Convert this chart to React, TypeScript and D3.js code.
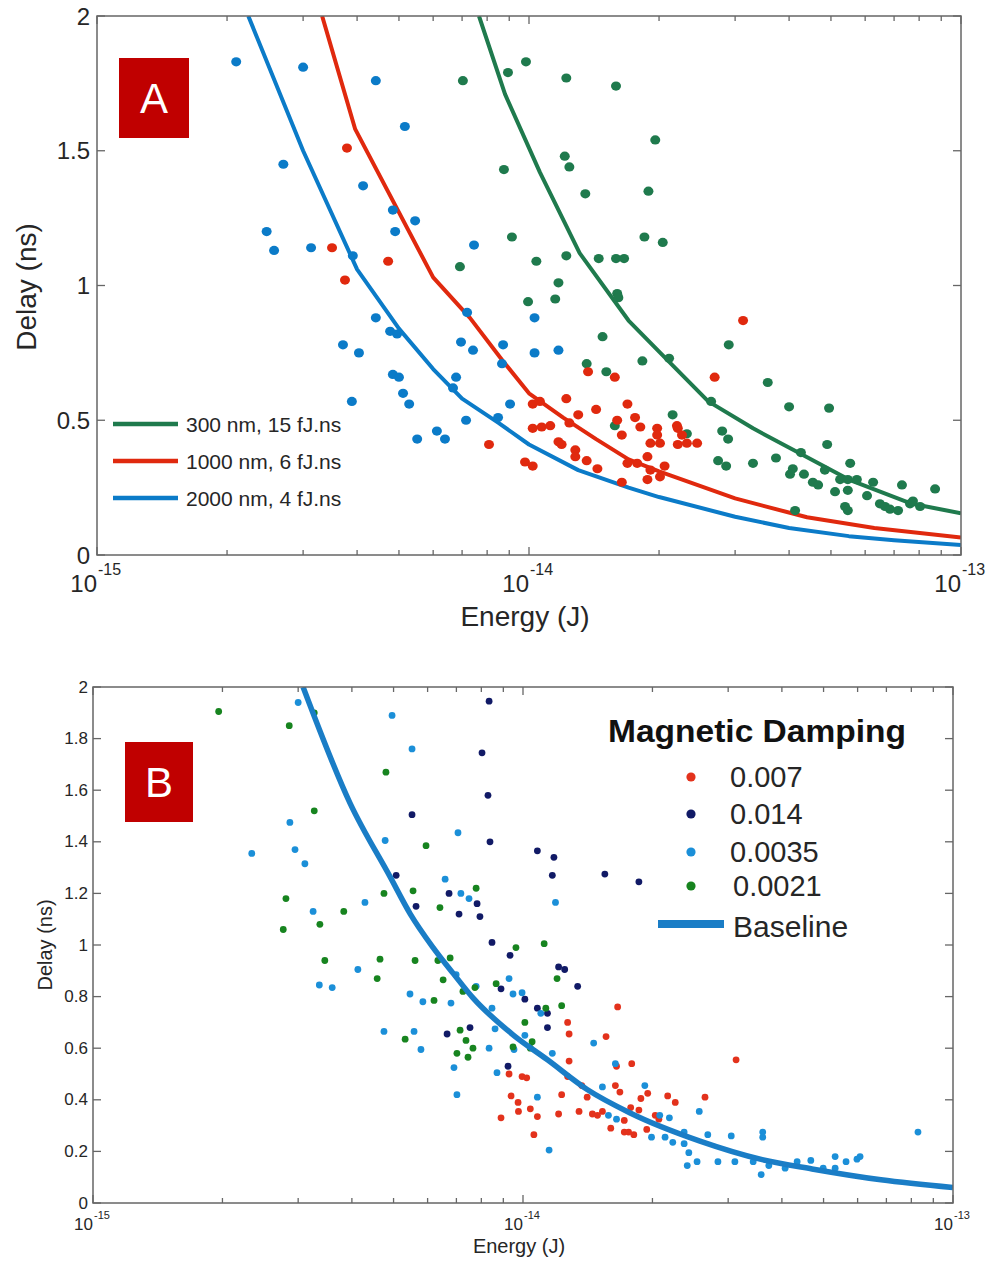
import React, { useEffect } from 'react';
import * as d3 from 'd3';

// energies are in fJ (1e-15 J), delays in ns
const FJ = 1e-15;
type Pt = [number, number];

const energyDomain = [1e-15, 1e-13];
const energyDecades = [1e-15, 1e-14, 1e-13];
const energyExpLabels = ['-15', '-14', '-13'];
const minorSteps = [2, 3, 4, 5, 6, 7, 8, 9];
const delayTicksA = [0, 0.5, 1, 1.5, 2];
const delayLabelsA = ['0', '0.5', '1', '1.5', '2'];
const delayTicksB = [0, 0.2, 0.4, 0.6, 0.8, 1, 1.2, 1.4, 1.6, 1.8, 2];
const delayLabelsB = ['0', '0.2', '0.4', '0.6', '0.8', '1', '1.2', '1.4', '1.6', '1.8', '2'];

// ---- panel A ----
const legendA = ['300 nm, 15 fJ.ns', '1000 nm, 6 fJ.ns', '2000 nm, 4 fJ.ns'];

const curve300: Pt[] = [[7.66, 2.0], [8.8, 1.71], [10.6, 1.42], [13.1, 1.12], [17, 0.87], [21, 0.72], [26, 0.57], [33, 0.47], [42, 0.38], [55, 0.28], [77, 0.19], [100, 0.155]];
const curve1000: Pt[] = [[3.32, 2.0], [3.96, 1.58], [6, 1.03], [7.3, 0.88], [8.7, 0.72], [10, 0.6], [12, 0.51], [14.3, 0.43], [17, 0.355], [20, 0.31], [30, 0.21], [44, 0.14], [63, 0.1], [100, 0.065]];
const curve2000: Pt[] = [[2.24, 2.0], [3.0, 1.5], [4, 1.06], [5, 0.84], [6, 0.69], [7, 0.58], [8.5, 0.49], [10, 0.41], [13, 0.315], [17, 0.25], [20, 0.215], [30, 0.142], [40, 0.1], [55, 0.07], [70, 0.055], [100, 0.037]];

const points2000: Pt[] = [[2.1, 1.83], [3.0, 1.81], [4.42, 1.76], [5.16, 1.59], [2.7, 1.45], [4.13, 1.37], [4.84, 1.28], [5.45, 1.24], [4.9, 1.2], [2.47, 1.2], [2.57, 1.13], [3.13, 1.14], [3.91, 1.11], [7.46, 1.15], [7.19, 0.9], [4.42, 0.88], [4.77, 0.83], [4.95, 0.82], [3.71, 0.78], [4.04, 0.75], [4.84, 0.67], [5.0, 0.66], [5.11, 0.6], [5.28, 0.56], [3.89, 0.57], [6.96, 0.79], [7.42, 0.76], [6.78, 0.66], [6.67, 0.62], [8.71, 0.78], [8.66, 0.71], [10.3, 0.88], [10.3, 0.75], [11.7, 0.76], [9.04, 0.56], [7.15, 0.5], [8.48, 0.51], [6.12, 0.46], [6.39, 0.43], [5.51, 0.43]];
const points1000: Pt[] = [[3.79, 1.51], [3.5, 1.14], [4.72, 1.09], [3.75, 1.02], [31.3, 0.87], [26.9, 0.66], [8.08, 0.41], [13.7, 0.68], [15.8, 0.66], [10.2, 0.56], [10.6, 0.57], [12.2, 0.58], [13.0, 0.52], [14.3, 0.54], [16.9, 0.56], [16.0, 0.5], [17.6, 0.51], [10.2, 0.47], [10.7, 0.475], [11.2, 0.48], [12.4, 0.49], [16.4, 0.445], [18.1, 0.475], [19.8, 0.47], [19.8, 0.445], [22.1, 0.47], [22.6, 0.445], [19.1, 0.415], [20.1, 0.415], [22.1, 0.41], [23.2, 0.415], [24.5, 0.415], [11.7, 0.42], [11.9, 0.41], [12.8, 0.39], [12.8, 0.365], [13.6, 0.35], [14.4, 0.32], [9.79, 0.345], [10.2, 0.33], [16.9, 0.34], [17.8, 0.34], [18.8, 0.365], [19.1, 0.315], [20.6, 0.33], [20.1, 0.29], [18.8, 0.28], [16.4, 0.27], [22.0, 0.48]];
const points300: Pt[] = [[7.03, 1.76], [6.92, 1.07], [8.94, 1.79], [9.84, 1.83], [12.2, 1.77], [15.9, 1.74], [19.6, 1.54], [12.1, 1.48], [12.4, 1.44], [8.75, 1.43], [13.5, 1.34], [18.9, 1.35], [9.13, 1.18], [18.5, 1.18], [20.4, 1.16], [10.4, 1.09], [12.2, 1.11], [14.5, 1.1], [15.9, 1.1], [16.6, 1.1], [11.7, 1.01], [9.95, 0.94], [11.5, 0.95], [16.0, 0.97], [16.1, 0.955], [14.8, 0.81], [29.0, 0.78], [13.6, 0.71], [15.1, 0.68], [18.3, 0.72], [21.1, 0.73], [35.7, 0.64], [26.4, 0.57], [21.5, 0.52], [15.8, 0.48], [23.2, 0.45], [40.0, 0.55], [49.5, 0.545], [28.0, 0.46], [28.9, 0.43], [49.0, 0.41], [42.6, 0.38], [37.3, 0.36], [27.4, 0.35], [28.6, 0.33], [33.0, 0.34], [55.4, 0.34], [40.8, 0.32], [40.2, 0.3], [43.3, 0.3], [45.4, 0.27], [46.7, 0.26], [52.5, 0.28], [54.7, 0.28], [57.4, 0.28], [62.6, 0.27], [51.1, 0.235], [54.7, 0.24], [60.6, 0.22], [73.0, 0.26], [87.1, 0.245], [64.9, 0.19], [66.7, 0.18], [68.5, 0.17], [71.5, 0.165], [76.2, 0.19], [77.4, 0.2], [80.4, 0.18], [53.9, 0.18], [54.7, 0.165], [41.3, 0.165], [48.4, 0.315]];

// ---- panel B ----
const dampingLabels = ['0.007', '0.014', '0.0035', '0.0021'];
const damp007: Pt[] = [[8.89, 0.33], [16.6, 0.76], [12.7, 0.7], [12.8, 0.655], [15.6, 0.645], [12.8, 0.55], [16.5, 0.53], [17.9, 0.54], [31.3, 0.555], [26.5, 0.41], [21.7, 0.415], [22.6, 0.39], [12.7, 0.49], [9.28, 0.5], [9.95, 0.49], [10.2, 0.485], [9.38, 0.415], [9.74, 0.39], [9.76, 0.355], [10.4, 0.365], [10.8, 0.335], [10.6, 0.265], [12.1, 0.345], [12.3, 0.42], [13.5, 0.355], [13.7, 0.455], [14.1, 0.41], [14.5, 0.345], [14.9, 0.34], [15.3, 0.355], [16.4, 0.455], [16.8, 0.43], [16.0, 0.29], [17.8, 0.37], [18.8, 0.405], [19.5, 0.425], [18.6, 0.36], [17.2, 0.32], [17.2, 0.275], [17.6, 0.275], [18.1, 0.265], [19.4, 0.285], [20.3, 0.34], [20.7, 0.325]];
const damp014: Pt[] = [[8.34, 1.945], [8.03, 1.745], [8.29, 1.58], [5.52, 1.505], [8.38, 1.4], [5.07, 1.27], [6.73, 1.2], [5.64, 1.15], [7.1, 1.12], [7.82, 1.16], [7.94, 1.11], [8.47, 1.01], [10.8, 1.365], [11.8, 1.34], [11.7, 1.27], [15.5, 1.275], [18.6, 1.245], [9.33, 0.96], [12.1, 0.915], [12.5, 0.905], [13.4, 0.84], [8.89, 0.83], [10.1, 0.79], [10.8, 0.755], [11.4, 0.735], [11.4, 0.68], [7.53, 0.68], [6.66, 0.655], [9.23, 0.53]];
const damp0035: Pt[] = [[3.0, 1.94], [4.96, 1.89], [5.52, 1.76], [2.87, 1.475], [2.34, 1.355], [2.95, 1.37], [3.11, 1.315], [3.25, 1.13], [4.29, 1.165], [4.78, 1.405], [7.06, 1.435], [6.59, 1.255], [7.17, 1.2], [7.49, 1.18], [4.13, 0.905], [3.36, 0.845], [3.6, 0.835], [5.46, 0.81], [6.99, 0.885], [7.78, 0.84], [9.28, 0.87], [9.48, 0.81], [9.95, 0.815], [11.9, 1.165], [5.85, 0.78], [6.8, 0.775], [4.75, 0.665], [5.58, 0.665], [5.79, 0.595], [6.91, 0.525], [7.02, 0.42], [8.47, 0.755], [8.61, 0.675], [8.34, 0.6], [8.7, 0.505], [11.0, 0.735], [9.53, 0.595], [10.1, 0.65], [11.7, 0.58], [10.8, 0.41], [11.5, 0.205], [14.6, 0.62], [16.4, 0.54], [15.3, 0.45], [19.2, 0.455], [15.8, 0.34], [16.5, 0.325], [19.9, 0.255], [20.8, 0.34], [21.9, 0.33], [21.4, 0.255], [22.3, 0.235], [23.7, 0.275], [23.7, 0.23], [24.3, 0.195], [24.1, 0.145], [25.4, 0.16], [25.7, 0.355], [26.9, 0.265], [28.4, 0.16], [30.5, 0.26], [31.1, 0.16], [34.3, 0.16], [36.1, 0.275], [36.1, 0.255], [35.8, 0.11], [37.3, 0.145], [40.7, 0.135], [43.4, 0.16], [46.7, 0.165], [49.9, 0.135], [53.2, 0.18], [53.2, 0.135], [56.4, 0.16], [59.8, 0.17], [60.8, 0.18], [82.9, 0.275]];
const damp0021: Pt[] = [[1.96, 1.905], [2.86, 1.85], [3.27, 1.9], [4.8, 1.67], [3.27, 1.52], [5.95, 1.385], [2.81, 1.18], [2.77, 1.06], [3.37, 1.08], [3.83, 1.13], [4.75, 1.2], [5.55, 1.21], [6.41, 1.145], [7.78, 1.22], [3.46, 0.94], [4.65, 0.945], [5.61, 0.94], [6.34, 0.94], [6.77, 0.95], [9.63, 0.99], [11.2, 1.005], [4.58, 0.87], [6.52, 0.865], [8.66, 0.85], [7.25, 0.82], [7.73, 0.835], [6.21, 0.785], [5.32, 0.635], [7.14, 0.67], [7.37, 0.63], [7.65, 0.6], [7.02, 0.58], [7.45, 0.565], [10.1, 0.7], [10.5, 0.625], [10.4, 0.6], [9.48, 0.605], [12.0, 0.87], [12.3, 0.765], [11.3, 0.755]];
const baseline: Pt[] = [[3.08, 2.0], [3.96, 1.55], [4.91, 1.264], [5.47, 1.12], [6.18, 0.99], [6.88, 0.89], [7.65, 0.795], [9.48, 0.652], [11.4, 0.555], [14.1, 0.44], [17.7, 0.35], [25.8, 0.24], [36, 0.168], [47, 0.132], [68, 0.09], [100, 0.06]];

const FONT = '"Liberation Sans", Arial, Helvetica, sans-serif';
const AXIS = '#666';
const TXT = '#262626';

function LogFrame({ x, y, yTicks, yLabels, cfg }: any) {
  const [x0, x1] = x.range();
  const [yb, yt] = y.range();
  const xTicks: { v: number; major: boolean }[] = [];
  energyDecades.forEach((d, i) => {
    xTicks.push({ v: d, major: true });
    if (i < energyDecades.length - 1) minorSteps.forEach((m) => xTicks.push({ v: d * m, major: false }));
  });
  return (
    <g fontFamily={FONT} fill={TXT}>
      <rect x={x0} y={yt} width={x1 - x0} height={yb - yt} fill="none" stroke={AXIS} strokeWidth={1.5} />
      {xTicks.map((t, i) => {
        const len = t.major ? cfg.majorLen : cfg.minorLen;
        const xp = x(t.v);
        return (
          <g key={i} stroke={AXIS} strokeWidth={1.3}>
            <line x1={xp} x2={xp} y1={yb} y2={yb - len} />
            <line x1={xp} x2={xp} y1={yt} y2={yt + len} />
          </g>
        );
      })}
      {yTicks.map((t: number, i: number) => (
        <g key={i} stroke={AXIS} strokeWidth={1.3}>
          <line x1={x0} x2={x0 + cfg.yLen} y1={y(t)} y2={y(t)} />
          <line x1={x1} x2={x1 - cfg.yLen} y1={y(t)} y2={y(t)} />
        </g>
      ))}
      {yTicks.map((t: number, i: number) => (
        <text key={i} x={x0 - cfg.yLabelGap} y={y(t)} textAnchor="end" dominantBaseline="central" fontSize={cfg.tickFont}>
          {yLabels[i]}
        </text>
      ))}
      {energyDecades.map((d, i) => (
        <g key={i}>
          <text x={x(d)} y={cfg.xLabelBase} textAnchor="end" fontSize={cfg.tickFont}>10</text>
          <text x={x(d) + 1} y={cfg.xLabelBase - cfg.supShift} fontSize={cfg.supFont}>{energyExpLabels[i]}</text>
        </g>
      ))}
      <text x={(x0 + x1) / 2 - 4} y={cfg.xTitleBase} textAnchor="middle" fontSize={cfg.titleFont}>Energy (J)</text>
      <text transform={`translate(${cfg.yTitleX},${cfg.yTitleY}) rotate(-90)`} textAnchor="middle" fontSize={cfg.titleFont}>Delay (ns)</text>
    </g>
  );
}

function PanelA() {
  const x = d3.scaleLog().domain(energyDomain).range([97, 961]);
  const y = d3.scaleLinear().domain([0, 2]).range([555, 16]);
  const line = d3.line<Pt>().x((d) => x(d[0] * FJ)).y((d) => y(d[1]));
  const colors = ['#1f7a4d', '#e0290e', '#0b7bc8'];
  const curves = [curve300, curve1000, curve2000];
  const points = [points300, points1000, points2000];
  return (
    <g>
      <defs>
        <clipPath id="clipA"><rect x={97} y={16} width={864} height={539} /></clipPath>
      </defs>
      <g clipPath="url(#clipA)">
        {curves.map((c, i) => (
          <path key={i} d={line(c) || ''} fill="none" stroke={colors[i]} strokeWidth={4} strokeLinejoin="round" />
        ))}
        {points.map((ps, i) =>
          ps.map((p, j) => <ellipse key={`${i}-${j}`} cx={x(p[0] * FJ)} cy={y(p[1])} rx={5} ry={4.6} fill={colors[i]} />)
        )}
      </g>
      <LogFrame x={x} y={y} yTicks={delayTicksA} yLabels={delayLabelsA}
        cfg={{ majorLen: 8, minorLen: 5, yLen: 8, yLabelGap: 7, tickFont: 24, supFont: 16, supShift: 17, xLabelBase: 592, xTitleBase: 626, titleFont: 28, yTitleX: 36, yTitleY: 287 }} />
      {legendA.map((t, i) => (
        <g key={i}>
          <line x1={113} x2={178} y1={424 + i * 37} y2={424 + i * 37} stroke={colors[i]} strokeWidth={4.5} />
          <text x={186} y={432 + i * 37} fontFamily={FONT} fontSize={21} fill={TXT}>{t}</text>
        </g>
      ))}
      <rect x={119} y={58} width={70} height={80} fill="#c00000" />
      <text x={154} y={113} textAnchor="middle" fontFamily={FONT} fontSize={42} fill="#fff">A</text>
    </g>
  );
}

function PanelB() {
  const x = d3.scaleLog().domain(energyDomain).range([93, 953]);
  const y = d3.scaleLinear().domain([0, 2]).range([1203, 687]);
  const line = d3.line<Pt>().x((d) => x(d[0] * FJ)).y((d) => y(d[1])).curve(d3.curveMonotoneX);
  const colors = ['#e3321c', '#111a66', '#1b8fd8', '#17841f'];
  const series = [damp007, damp014, damp0035, damp0021];
  const baseColor = '#1a7dc6';
  const legendY = [777, 814, 852, 886];
  return (
    <g>
      <defs>
        <clipPath id="clipB"><rect x={93} y={687} width={860} height={516} /></clipPath>
      </defs>
      <g clipPath="url(#clipB)">
        {series.map((ps, i) =>
          ps.map((p, j) => <circle key={`${i}-${j}`} cx={x(p[0] * FJ)} cy={y(p[1])} r={3.4} fill={colors[i]} />)
        )}
        <path d={line(baseline) || ''} fill="none" stroke={baseColor} strokeWidth={5.5} strokeLinejoin="round" />
      </g>
      <LogFrame x={x} y={y} yTicks={delayTicksB} yLabels={delayLabelsB}
        cfg={{ majorLen: 8, minorLen: 5, yLen: 8, yLabelGap: 5, tickFont: 17, supFont: 11, supShift: 11, xLabelBase: 1230, xTitleBase: 1253, titleFont: 20, yTitleX: 52, yTitleY: 945 }} />
      <text x={608} y={742} fontFamily={FONT} fontWeight="bold" fontSize={32} fill="#111" textLength={298} lengthAdjust="spacingAndGlyphs">Magnetic Damping</text>
      {dampingLabels.map((t, i) => (
        <g key={i}>
          <circle cx={691} cy={legendY[i]} r={4.6} fill={colors[i]} />
          <text x={i === 3 ? 733 : 730} y={legendY[i] + 10} fontFamily={FONT} fontSize={29} fill={TXT}>{t}</text>
        </g>
      ))}
      <line x1={658} x2={724} y1={924} y2={924} stroke={baseColor} strokeWidth={8} />
      <text x={733} y={937} fontFamily={FONT} fontSize={30} fill={TXT}>Baseline</text>
      <rect x={125} y={742} width={68} height={80} fill="#c00000" />
      <text x={159} y={797} textAnchor="middle" fontFamily={FONT} fontSize={42} fill="#fff">B</text>
    </g>
  );
}

export default function App() {
  useEffect(() => {
    document.body.style.margin = '0';
  }, []);
  return (
    <svg width={993} height={1262} viewBox="0 0 993 1262" style={{ display: 'block', background: '#fff' }}>
      <rect width={993} height={1262} fill="#fff" />
      <PanelA />
      <PanelB />
    </svg>
  );
}
